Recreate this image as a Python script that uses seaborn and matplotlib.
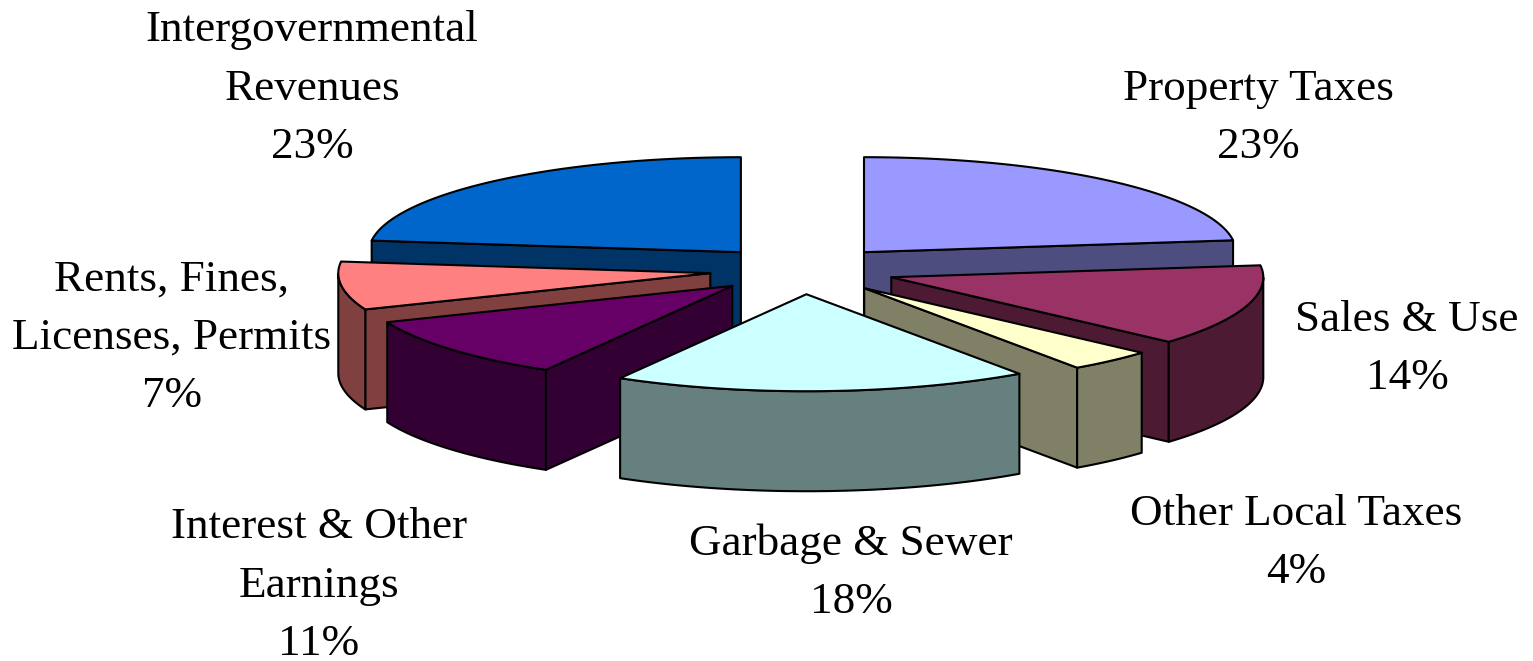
import numpy as np
import matplotlib
matplotlib.use("Agg")
import matplotlib.pyplot as plt
import seaborn as sns

# Data, clockwise from 12 o'clock
labels = ["Property Taxes", "Sales & Use", "Other Local Taxes", "Garbage & Sewer",
          "Interest & Other\nEarnings", "Rents, Fines,\nLicenses, Permits",
          "Intergovernmental\nRevenues"]
printed_pct = [23, 14, 4, 18, 11, 7, 23]
# slice sizes, they differ a bit from the printed percents
slice_sizes = [23, 13.6, 3.7, 18.05, 10.55, 8.05, 23.05]
colors = ["#9999FF", "#993366", "#FFFFCC", "#CCFFFF", "#660066", "#FF8080", "#0066CC"]

# Where each label is centred, in pixels
label_x = [1258, 1407, 1296, 851, 319, 172, 312]
label_bottom = [167, 398, 592, 622, 664, 416, 167]

# Pie geometry in pixels, the front half is a little taller (perspective)
cx, cy = 802.5, 270
rx, ry_back, ry_front = 372, 95, 97
depth = 100
explode = 0.25

sns.set_theme(style="white")
plt.rcParams["font.family"] = ["Liberation Serif", "DejaVu Sans"]


def pt(t, r=1.0):
    # t is degrees clockwise from the top of the pie
    a = np.radians(t)
    ry = ry_back if np.cos(a) > 0 else ry_front
    return np.array([rx * r * np.sin(a), -ry * r * np.cos(a)])


def poly(ax, pts, color):
    ax.fill(pts[:, 0], pts[:, 1], facecolor=color, edgecolor="black", linewidth=1.5, joinstyle="round")


fig, ax = plt.subplots(figsize=(15.33, 6.61), dpi=100)
ax.set_position([0, 0, 1, 1])
ax.set_xlim(0, 1533)
ax.set_ylim(661, 0)
ax.axis("off")

edges = np.cumsum([0] + slice_sizes) / sum(slice_sizes) * 360
mids = (edges[:-1] + edges[1:]) / 2

# Back slices first so the front ones cover them
order = np.argsort(-np.cos(np.radians(mids)), kind="stable")
for i in order:
    t0, t1 = edges[i], edges[i + 1]
    tip = np.array([cx, cy]) + pt(mids[i], explode)
    ts = np.linspace(t0, t1, 80)
    arc = tip + np.array([pt(t) for t in ts])
    down = np.array([0, depth])
    dark = np.array(matplotlib.colors.to_rgb(colors[i])) * 0.5

    # radial faces that look toward the viewer
    if np.sin(np.radians(t0)) < 0:
        poly(ax, np.array([tip, arc[0], arc[0] + down, tip + down]), dark)
    if np.sin(np.radians(t1)) > 0:
        poly(ax, np.array([tip, arc[-1], arc[-1] + down, tip + down]), dark)

    # outer rim, only the part facing front
    front = (ts > 90) & (ts < 270)
    if front.any():
        rim = arc[front]
        poly(ax, np.vstack([rim, (rim + down)[::-1]]), dark)

    # top face
    poly(ax, np.vstack([tip, arc]), colors[i])

for name, pct, x, y in zip(labels, printed_pct, label_x, label_bottom):
    ax.text(x, y, f"{name}\n{pct}%", ha="center", va="bottom", fontsize=32.5,
            linespacing=1.59, color="black", multialignment="center", clip_on=False)

fig.savefig("out.png", dpi=100, facecolor="white")
